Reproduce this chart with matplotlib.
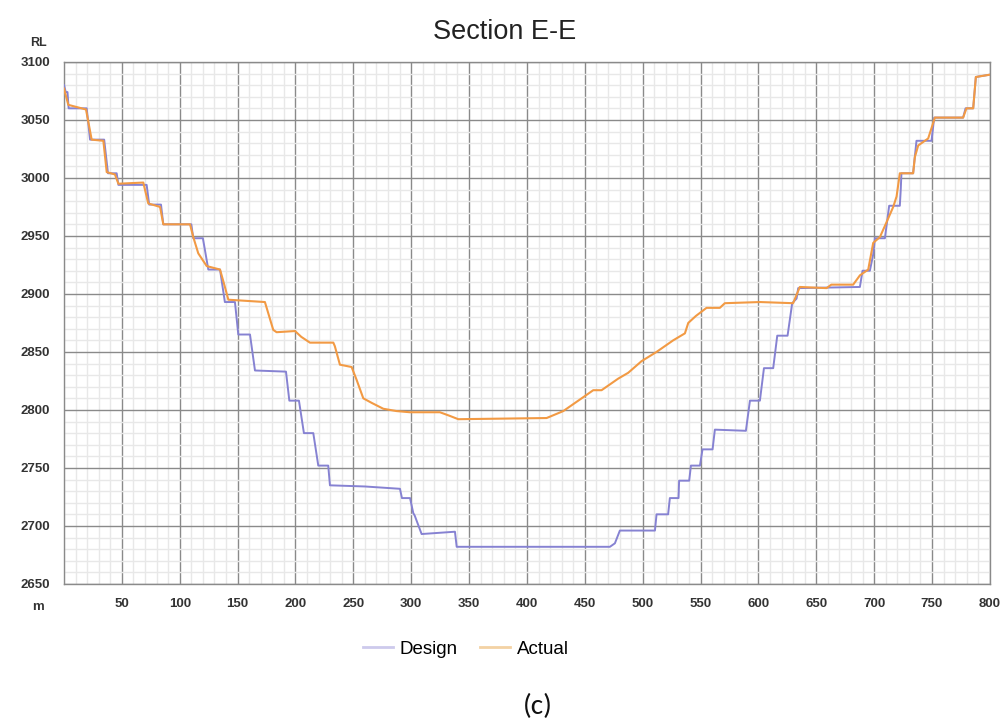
import numpy as np
import matplotlib
matplotlib.use("Agg")
import matplotlib.pyplot as plt
from matplotlib.lines import Line2D
from matplotlib.ticker import MultipleLocator

plt.rcParams['font.family'] = ['Liberation Sans', 'DejaVu Sans']

design_x = [0, 1.5, 3, 4, 19.6, 22.5, 34.7, 38, 45.5, 47, 71.4, 73.6, 83.8, 85.8,
            110, 111.7, 120, 124.7, 134.8, 139, 147.7, 150.6, 160.7, 165, 191.8,
            194.7, 203, 207.3, 215.4, 219.7, 228.3, 229.8, 260, 290.3, 292, 299,
            301.8, 303, 309, 337.8, 339.3, 471.7, 476, 480.3, 510.6, 512, 522,
            523.5, 531, 531.5, 540.2, 541.7, 549.5, 551.7, 560.4, 562.4, 589.2,
            592.7, 601.3, 604.8, 612.8, 616.3, 625.2, 627.2, 629.2, 633, 634.4,
            687.7, 690, 696.3, 699.2, 700.7, 709.3, 713, 722.2, 723, 723.6, 733.7,
            736.6, 749.6, 751.9, 776.9, 779, 785.6, 787.9, 800]
design_rl = [3080, 3074, 3074, 3060, 3060, 3033, 3033, 3004, 3004, 2994, 2994, 2977,
             2977, 2960, 2960, 2948, 2948, 2921, 2921, 2893, 2893, 2865, 2865, 2834,
             2833, 2808, 2808, 2780, 2780, 2752, 2752, 2735, 2734, 2732, 2724, 2724,
             2711, 2709, 2693, 2695, 2682, 2682, 2685, 2696, 2696, 2710, 2710, 2724,
             2724, 2739, 2739, 2752, 2752, 2766, 2766, 2783, 2782, 2808, 2808, 2836,
             2836, 2864, 2864, 2878, 2892, 2896, 2905, 2906, 2920, 2920, 2934, 2948,
             2948, 2976, 2976, 2990, 3004, 3004, 3032, 3032, 3052, 3052, 3060, 3060,
             3087, 3089]

actual_x = [0, 3.7, 19, 23.9, 34, 36.9, 44, 47, 68.5, 72.8, 83, 85.8, 108.9, 111.7,
            116, 123.3, 134.8, 138.2, 142, 173.6, 180.8, 183.7, 199.6, 205, 212.5,
            232.7, 234, 238.4, 248.5, 252.8, 258.6, 266, 275.9, 287.4, 298.9, 324.8,
            333, 340.7, 417, 431.4, 448.7, 457.3, 464.5, 478.9, 487.5, 499, 512,
            526.4, 536.5, 539.4, 546, 555.2, 566.7, 571, 601.3, 630, 635.8, 658.9,
            663, 681.9, 687.7, 694.9, 699.2, 705, 710.8, 716.5, 719.4, 722.2, 733.7,
            735.2, 738.1, 746.7, 752.5, 776.9, 779.8, 785.6, 787.9, 800]
actual_rl = [3077, 3063, 3059, 3033, 3032, 3005, 3003, 2995, 2996, 2978, 2975, 2960,
             2960, 2949, 2935, 2924, 2921, 2909, 2895, 2893, 2869, 2867, 2868, 2863,
             2858, 2858, 2855, 2839, 2837, 2826, 2810, 2806, 2801, 2799, 2798, 2798,
             2795, 2792, 2793, 2799, 2811, 2817, 2817, 2827, 2832, 2842, 2850, 2860,
             2866, 2875, 2881, 2888, 2888, 2892, 2893, 2892, 2906, 2905, 2908, 2908,
             2916, 2921, 2944, 2949, 2962, 2975, 2984, 3004, 3004, 3018, 3028, 3034,
             3052, 3052, 3060, 3060, 3087, 3089]

x_ticks = [50, 100, 150, 200, 250, 300, 350, 400, 450, 500, 550, 600, 650, 700, 750, 800]

design_col = '#8682d2'
actual_col = '#f29a44'

fig = plt.figure(figsize=(10.08, 7.2), dpi=100)
ax = fig.add_axes([0.0635, 0.189, 0.9185, 0.725])

ax.plot(design_x, design_rl, color=design_col, lw=1.4, zorder=3)
ax.plot(actual_x, actual_rl, color=actual_col, lw=1.5, zorder=4)

ax.set_xlim(0, 800)
ax.set_ylim(2650, 3100)
ax.xaxis.set_major_locator(MultipleLocator(50))
ax.xaxis.set_minor_locator(MultipleLocator(10))
ax.yaxis.set_major_locator(MultipleLocator(50))
ax.yaxis.set_minor_locator(MultipleLocator(10))
ax.grid(which='minor', color='#e8e8e8', lw=1.0)
ax.grid(which='major', color='#8a8a8a', lw=1.0)
ax.set_axisbelow(True)
ax.tick_params(which='both', length=0, labelsize=9.5, colors='#333333', pad=10)
ax.set_xticks(x_ticks)
ax.set_xticklabels([str(t) for t in x_ticks], fontweight='bold')
for lab in ax.get_yticklabels():
    lab.set_fontweight('bold')
for s in ax.spines.values():
    s.set_color('#8a8a8a')
    s.set_linewidth(1.0)

fig.text(0.038, 0.94, 'RL', fontsize=9, fontweight='bold', color='#333333',
         ha='center', va='center')
fig.text(0.038, 0.157, 'm', fontsize=9.5, fontweight='bold', color='#333333',
         ha='center', va='center')
fig.text(0.501, 0.956, 'Section E-E', fontsize=19.5, color='#222222',
         ha='center', va='center')

handles = [Line2D([], [], color='#cdcaec', lw=2),
           Line2D([], [], color='#f3d2a4', lw=2)]
fig.legend(handles, ['Design', 'Actual'], loc='center', bbox_to_anchor=(0.462, 0.098),
           ncol=2, frameon=False, fontsize=13.5, handlelength=1.6,
           columnspacing=1.2, handletextpad=0.35)

fig.text(0.534, 0.019, '(c)', fontsize=21, color='#111111',
         family=['Carlito', 'Liberation Sans', 'DejaVu Sans'],
         ha='center', va='center')

fig.savefig('out.png', dpi=100)
